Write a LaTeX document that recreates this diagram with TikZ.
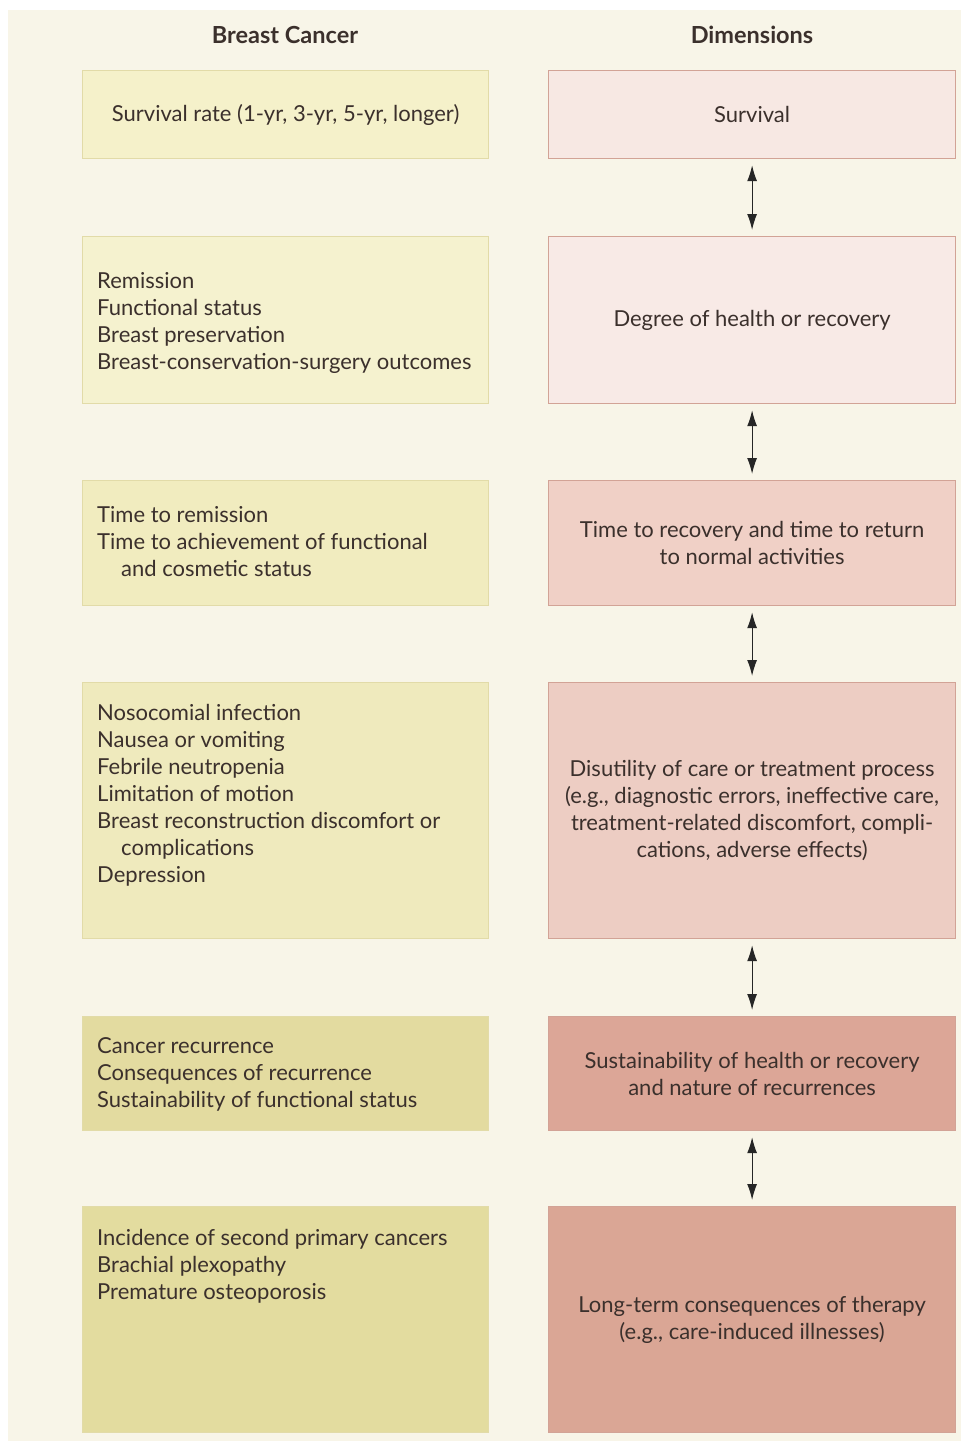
\documentclass[tikz,border=0pt]{standalone}
\usepackage{fontspec}
\setmainfont{Lato}
\usetikzlibrary{arrows.meta}
\definecolor{bg}{HTML}{F8F5E8}
\definecolor{txt}{HTML}{3B302C}
\definecolor{lA}{HTML}{F5F1CA}
\definecolor{lB}{HTML}{F5F2CF}
\definecolor{lC}{HTML}{F1ECBF}
\definecolor{lD}{HTML}{EFEABD}
\definecolor{lE}{HTML}{E3DBA0}
\definecolor{lF}{HTML}{E3DC9F}
\definecolor{lborder}{HTML}{E2DBA8}
\definecolor{rA}{HTML}{F7E8E3}
\definecolor{rB}{HTML}{F8EAE6}
\definecolor{rC}{HTML}{F0D0C6}
\definecolor{rD}{HTML}{EDCDC3}
\definecolor{rE}{HTML}{DCA697}
\definecolor{rF}{HTML}{DAA695}
\definecolor{rborder}{HTML}{D2A396}
\begin{document}
\begin{tikzpicture}[x=1pt,y=-1pt,
  every node/.style={font=\fontsize{22}{27}\selectfont, text=txt, inner sep=0pt},
  lbox/.style={draw=lborder, line width=1.2pt, minimum width=406pt, anchor=north west},
  rbox/.style={draw=rborder, line width=1.2pt, minimum width=407pt, anchor=north west, align=center},
  ltext/.style={anchor=north west, align=left},
  head/.style={font=\fontsize{23.5}{26}\selectfont\bfseries},
  arr/.style={{Latex[length=16pt,width=10pt]}-{Latex[length=16pt,width=10pt]}, line width=1.2pt, black!85, shorten >=6pt, shorten <=6pt}
]
\useasboundingbox (0,0) rectangle (961,1445);
\fill[white] (0,0) rectangle (961,1445);
\fill[bg] (8,10) rectangle (961,1441);

\node[head] (h1) at (285,35) {Breast Cancer};
\node[head] (h2) at (752,35) {Dimensions};

% left boxes
\node[lbox, fill=lA, minimum height=88pt] (l1) at (82,70) {};
\node[lbox, fill=lB, minimum height=167pt] (l2) at (82,236) {};
\node[lbox, fill=lC, minimum height=125pt] (l3) at (82,480) {};
\node[lbox, fill=lD, minimum height=256pt] (l4) at (82,682) {};
\node[lbox, fill=lE, minimum height=114pt] (l5) at (82,1016) {};
\node[lbox, fill=lF, minimum height=226pt] (l6) at (82,1206) {};

\node (t1) at (l1.center) {Survival rate (1-yr, 3-yr, 5-yr, longer)};
\node[ltext] (t2) at (97,272) {Remission\\Functional status\\Breast preservation\\Breast-conservation-surgery outcomes};
\node[ltext] (t3) at (97,506) {Time to remission\\Time to achievement of functional\\\hspace*{24pt}and cosmetic status};
\node[ltext] (t4) at (97,704) {Nosocomial infection\\Nausea or vomiting\\Febrile neutropenia\\Limitation of motion\\Breast reconstruction discomfort or\\\hspace*{24pt}complications\\Depression};
\node[ltext] (t5) at (97,1037) {Cancer recurrence\\Consequences of recurrence\\Sustainability of functional status};
\node[ltext] (t6) at (97,1229) {Incidence of second primary cancers\\Brachial plexopathy\\Premature osteoporosis};

% right boxes
\node[rbox, fill=rA, minimum height=88pt] (r1) at (548,70) {};
\node[rbox, fill=rB, minimum height=167pt] (r2) at (548,236) {};
\node[rbox, fill=rC, minimum height=125pt] (r3) at (548,480) {};
\node[rbox, fill=rD, minimum height=256pt] (r4) at (548,682) {};
\node[rbox, fill=rE, minimum height=114pt] (r5) at (548,1016) {};
\node[rbox, fill=rF, minimum height=226pt] (r6) at (548,1206) {};

\node (s1) at (r1.center) {Survival};
\node (s2) at (r2.center) {Degree of health or recovery};
\node[align=center] (s3) at (r3.center) {Time to recovery and time to return\\to normal activities};
\node[align=center] (s4) at (r4.center) {Disutility of care or treatment process\\(e.g., diagnostic errors, ineffective care,\\treatment-related discomfort, compli-\\cations, adverse effects)};
\node[align=center] (s5) at (r5.center) {Sustainability of health or recovery\\and nature of recurrences};
\node[align=center] (s6) at (r6.center) {Long-term consequences of therapy\\(e.g., care-induced illnesses)};

\draw[arr] (r1.south) -- (r2.north);
\draw[arr] (r2.south) -- (r3.north);
\draw[arr] (r3.south) -- (r4.north);
\draw[arr] (r4.south) -- (r5.north);
\draw[arr] (r5.south) -- (r6.north);
\end{tikzpicture}
\end{document}
